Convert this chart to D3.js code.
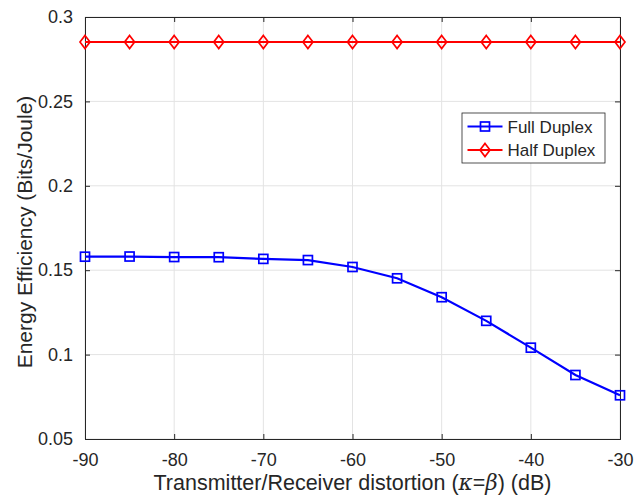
<!DOCTYPE html>
<meta charset="utf-8">
<head>
	<script type="text/javascript" src="https://cdn.jsdelivr.net/npm/d3@7"></script>
	<style>
		body { margin: 0; background: #fff; }
		text { font-family: "Liberation Sans", Arial, sans-serif; fill: #262626; }
	</style>
</head>
<body>
	<div id="chart"></div>
	<script>
		// data
		const distortion = [-90, -85, -80, -75, -70, -65, -60, -55, -50, -45, -40, -35, -30];
		const fullDuplex = [0.1580, 0.1581, 0.1578, 0.1577, 0.1567, 0.1560, 0.1519, 0.1452, 0.1340, 0.1200, 0.1041, 0.0879, 0.0759];
		const halfDuplex = [0.2852, 0.2852, 0.2852, 0.2852, 0.2852, 0.2852, 0.2852, 0.2852, 0.2852, 0.2852, 0.2852, 0.2852, 0.2852];
		const xTicks = [-90, -80, -70, -60, -50, -40, -30];
		const yTicks = [0.05, 0.1, 0.15, 0.2, 0.25, 0.3];
		const seriesNames = ["Full Duplex", "Half Duplex"];

		const width = 644;
		const height = 496;
		const margin = {top: 17, right: 24, bottom: 57, left: 85};

		const svg = d3.select("#chart")
			.append("svg")
			.attr("width", width)
			.attr("height", height);

		const x = d3.scaleLinear().domain([-90, -30]).range([margin.left, width - margin.right]);
		const y = d3.scaleLinear().domain([0.05, 0.3]).range([height - margin.bottom, margin.top]);

		// grid
		const grid = svg.append("g");
		grid.selectAll(".vg").data(xTicks).enter().append("line")
			.attr("x1", d => x(d)).attr("x2", d => x(d))
			.attr("y1", y(0.05)).attr("y2", y(0.3))
			.attr("stroke", "#e3e3e3").attr("stroke-width", 1);
		grid.selectAll(".hg").data(yTicks).enter().append("line")
			.attr("y1", d => y(d)).attr("y2", d => y(d))
			.attr("x1", x(-90)).attr("x2", x(-30))
			.attr("stroke", "#e3e3e3").attr("stroke-width", 1);

		// axes (ticks inside, box all round)
		const axisB = d3.axisBottom(x).tickValues(xTicks).tickSize(-5).tickPadding(14).tickFormat(d => d);
		const axisT = d3.axisTop(x).tickValues(xTicks).tickSize(-5).tickFormat("");
		const axisL = d3.axisLeft(y).tickValues(yTicks).tickSize(-5).tickPadding(12).tickFormat(d => +d.toFixed(2));
		const axisR = d3.axisRight(y).tickValues(yTicks).tickSize(-5).tickFormat("");

		function style(g) {
			g.select(".domain").attr("stroke", "#262626").attr("stroke-width", 1);
			g.selectAll(".tick line").attr("stroke", "#262626");
			g.selectAll(".tick text").attr("font-size", 18).attr("fill", "#262626")
				.attr("font-family", "Liberation Sans, Arial, sans-serif");
		}

		svg.append("g").attr("transform", `translate(0,${y(0.05)})`).call(axisB).call(style);
		svg.append("g").attr("transform", `translate(0,${y(0.3)})`).call(axisT).call(style);
		svg.append("g").attr("transform", `translate(${x(-90)},0)`).call(axisL).call(style);
		svg.append("g").attr("transform", `translate(${x(-30)},0)`).call(axisR).call(style);

		// lines
		const line = d3.line().x(d => x(d[0])).y(d => y(d[1]));
		const fdPts = distortion.map((d, i) => [d, fullDuplex[i]]);
		const hdPts = distortion.map((d, i) => [d, halfDuplex[i]]);

		svg.append("path").datum(fdPts).attr("d", line)
			.attr("fill", "none").attr("stroke", "#0000ff").attr("stroke-width", 2.2);
		svg.append("path").datum(hdPts).attr("d", line)
			.attr("fill", "none").attr("stroke", "#ff0000").attr("stroke-width", 2.2);

		// markers
		const sq = 9;
		svg.append("g").selectAll("rect").data(fdPts).enter().append("rect")
			.attr("x", d => x(d[0]) - sq / 2).attr("y", d => y(d[1]) - sq / 2)
			.attr("width", sq).attr("height", sq)
			.attr("fill", "none").attr("stroke", "#0000ff").attr("stroke-width", 1.7);

		const diamond = (cx, cy) => `M${cx},${cy - 6.5}L${cx + 5},${cy}L${cx},${cy + 6.5}L${cx - 5},${cy}Z`;
		svg.append("g").selectAll("path").data(hdPts).enter().append("path")
			.attr("d", d => diamond(x(d[0]), y(d[1])))
			.attr("fill", "none").attr("stroke", "#ff0000").attr("stroke-width", 1.7);

		// legend
		const lg = svg.append("g").attr("transform", "translate(462,113)");
		lg.append("rect").attr("width", 143).attr("height", 50)
			.attr("fill", "#fff").attr("stroke", "#262626").attr("stroke-width", 0.8);
		const colors = ["#0000ff", "#ff0000"];
		seriesNames.forEach((name, i) => {
			const cy = 13.5 + i * 23.5;
			lg.append("line").attr("x1", 5.5).attr("x2", 40.5).attr("y1", cy).attr("y2", cy)
				.attr("stroke", colors[i]).attr("stroke-width", 2.2);
			if (i === 0) {
				lg.append("rect").attr("x", 23 - sq / 2).attr("y", cy - sq / 2)
					.attr("width", sq).attr("height", sq)
					.attr("fill", "none").attr("stroke", colors[i]).attr("stroke-width", 1.7);
			} else {
				lg.append("path").attr("d", diamond(23, cy))
					.attr("fill", "none").attr("stroke", colors[i]).attr("stroke-width", 1.7);
			}
			lg.append("text").attr("x", 45.5).attr("y", cy + 6)
				.attr("font-size", 17).text(name);
		});

		// axis labels
		const xl = svg.append("text")
			.attr("x", (x(-90) + x(-30)) / 2).attr("y", 490)
			.attr("text-anchor", "middle").attr("font-size", 21.5);
		xl.append("tspan").text("Transmitter/Receiver distortion (");
		xl.append("tspan").attr("font-family", "DejaVu Serif, serif").attr("font-style", "italic").text("κ");
		xl.append("tspan").text("=");
		xl.append("tspan").attr("font-family", "DejaVu Serif, serif").attr("font-style", "italic").text("β");
		xl.append("tspan").text(") (dB)");

		svg.append("text")
			.attr("transform", `translate(32,232) rotate(-90)`)
			.attr("text-anchor", "middle").attr("font-size", 21)
			.text("Energy Efficiency (Bits/Joule)");
	</script>
</body>
</html>
